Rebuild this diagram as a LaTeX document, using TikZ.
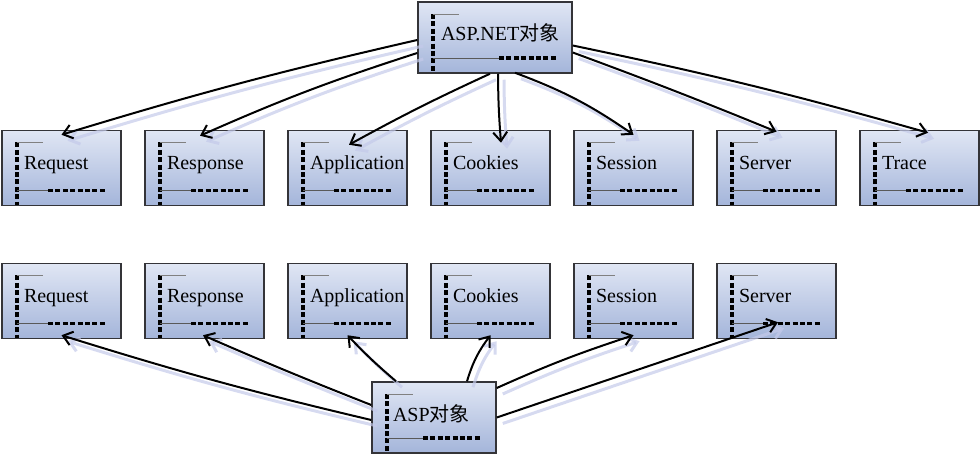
\documentclass[tikz,border=0pt]{standalone}
\usepackage{fontspec}
\setmainfont{Liberation Serif}
\newfontfamily\cjk{Noto Sans CJK SC}
\usetikzlibrary{arrows.meta}

\definecolor{boxtop}{RGB}{224,230,244}
\definecolor{boxbottom}{RGB}{164,181,218}
\definecolor{boxedge}{RGB}{52,52,56}
\definecolor{shade}{RGB}{196,202,234}

\newcommand{\lbl}[2][75pt]{\makebox[#1][l]{#2}}

\tikzset{
  dashline/.style = {draw = black, line width = 3.2pt, dash pattern = on 5pt off 2.4pt},
  objbox/.style = {draw = boxedge, line width = 1.5pt, top color = boxtop, bottom color = boxbottom,
    minimum width = 119pt, minimum height = 75pt, inner sep = 0pt,
    text height = 16pt, text depth = 12pt, font = \fontsize{20}{24}\selectfont,
    path picture = {
      \draw[dashline] ([xshift = 15pt, yshift = -12pt]path picture bounding box.north west)
        -- ([xshift = 15pt]path picture bounding box.south west);
      \draw[draw = gray, line width = 0.6pt] ([xshift = 15pt, yshift = -12pt]path picture bounding box.north west)
        -- ++(26pt, 0);
      \draw[draw = gray!70!black, line width = 0.6pt] ([xshift = 15pt, yshift = 15pt]path picture bounding box.south west)
        -- ([xshift = -73pt, yshift = 15pt]path picture bounding box.south east);
      \draw[dashline] ([xshift = -73pt, yshift = 15pt]path picture bounding box.south east)
        -- ([xshift = -14pt, yshift = 15pt]path picture bounding box.south east);
    }},
  rootbox/.style = {objbox, minimum height = 71pt, text height = 17pt, text depth = 10pt},
  link/.style = {draw = black, line width = 2pt, -{Straight Barb[length = 9pt, width = 14pt]}},
  linkshadow/.style = {link, draw = shade, line width = 3pt, opacity = 0.7,
    transform canvas = {xshift = 6pt, yshift = -6pt}}
}

\begin{document}
\begin{tikzpicture}[x = 1pt, y = 1pt]
\useasboundingbox (0, 0) rectangle (980, -454);

\node[rootbox, minimum width = 154pt] (net) at (495, -37.5) {\lbl[108pt]{ASP.NET{\cjk 对象}}};

\node[objbox] (req) at (61.5, -168) {\lbl{Request}};
\node[objbox] (resp) at (204.5, -168) {\lbl{Response}};
\node[objbox] (app) at (347.5, -168) {\lbl{Application}};
\node[objbox] (cook) at (490.5, -168) {\lbl{Cookies}};
\node[objbox] (sess) at (633.5, -168) {\lbl{Session}};
\node[objbox] (serv) at (776.5, -168) {\lbl{Server}};
\node[objbox] (trace) at (919.5, -168) {\lbl{Trace}};

\node[objbox] (req2) at (61.5, -301) {\lbl{Request}};
\node[objbox] (resp2) at (204.5, -301) {\lbl{Response}};
\node[objbox] (app2) at (347.5, -301) {\lbl{Application}};
\node[objbox] (cook2) at (490.5, -301) {\lbl{Cookies}};
\node[objbox] (sess2) at (633.5, -301) {\lbl{Session}};
\node[objbox] (serv2) at (776.5, -301) {\lbl{Server}};

\node[rootbox, minimum width = 124pt, text height = 18pt] (asp) at (434, -417.5) {\lbl[82pt]{ASP{\cjk 对象}}};

% shadow first, then the black line
\foreach \kind in {linkshadow, link} {
  \draw[\kind] ([yshift = -2.5pt]net.west) to[bend right = 2] ([yshift = -5pt]req.north);
  \draw[\kind] ([yshift = -15.5pt]net.west) to[bend right = 3] ([xshift = -4.5pt, yshift = -6pt]resp.north);
  \draw[\kind] ([xshift = -5pt]net.south) to[bend right = 2] ([xshift = 1.5pt, yshift = -15pt]app.north);
  \draw[\kind] ([xshift = 3pt]net.south) to[bend right = 2] ([xshift = 10.5pt, yshift = -13pt]cook.north);
  \draw[\kind] ([xshift = 20pt, yshift = 1pt]net.south) to[bend left = 7] ([yshift = -5pt]sess.north);
  \draw[\kind] ([yshift = -15pt]net.east) to[bend left = 1] ([yshift = -2pt]serv.north);
  \draw[\kind] ([yshift = -8pt]net.east) to[bend left = 2] ([xshift = 8.5pt, yshift = -3pt]trace.north);

  \draw[\kind] ([yshift = -2.5pt]asp.west) to[bend left = 2] ([yshift = 4pt]req2.south);
  \draw[\kind] ([yshift = 12.5pt]asp.west) to[bend left = 1] ([xshift = -1.5pt, yshift = 4pt]resp2.south);
  \draw[\kind] ([xshift = -38pt]asp.north) to[bend left = 3] ([yshift = 4pt]app2.south);
  \draw[\kind] ([xshift = 33pt]asp.north) to[bend left = 10] ([yshift = 4pt]cook2.south);
  \draw[\kind] ([yshift = 29.5pt]asp.east) to[bend left = 3] ([yshift = 4pt]sess2.south);
  \draw[\kind] (asp.east) -- ([xshift = 1.5pt, yshift = 17pt]serv2.south);
}
\end{tikzpicture}
\end{document}
